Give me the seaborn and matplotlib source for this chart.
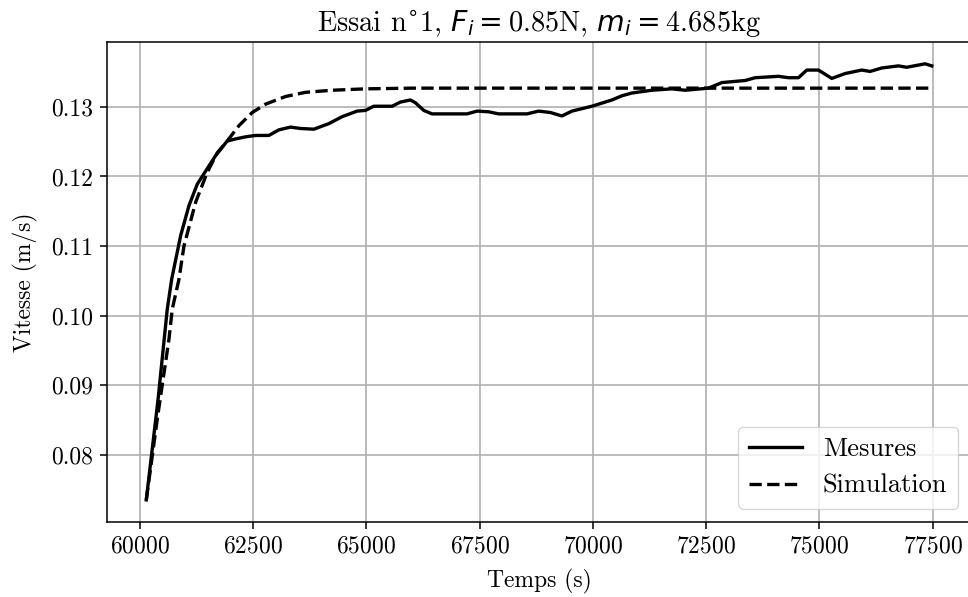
import pandas as pd
import seaborn as sns
import matplotlib.pyplot as plt

# Essai n°1 : vitesse mesuree vs simulee
temps_mes = [60139, 60400, 60602, 60699, 60898, 61081, 61265, 61670, 61926,
             62111, 62332, 62552, 62846, 63066, 63324, 63545, 63839, 64170,
             64463, 64794, 64978, 65162, 65566, 65750, 65971, 66081, 66265,
             66448, 67220, 67441, 67699, 67920, 68544, 68802, 69060, 69316,
             69537, 69978, 70419, 70640, 70861, 71302, 71743, 72037, 72552,
             72846, 73361, 73582, 74096, 74317, 74538, 74721, 74979, 75273,
             75568, 75935, 76119, 76376, 76744, 76927, 77333, 77480]
vit_mes = [0.0735, 0.0880, 0.1009, 0.1052, 0.1115, 0.1158, 0.1189, 0.1230,
           0.1251, 0.1254, 0.1257, 0.1259, 0.1259, 0.1267, 0.1271, 0.1269,
           0.1268, 0.1276, 0.1286, 0.1294, 0.1295, 0.1301, 0.1301, 0.1307,
           0.1310, 0.1306, 0.1295, 0.1290, 0.1290, 0.1294, 0.1293, 0.1290,
           0.1290, 0.1294, 0.1292, 0.1287, 0.1294, 0.1301, 0.1310, 0.1316,
           0.1320, 0.1324, 0.1326, 0.1324, 0.1327, 0.1335, 0.1338, 0.1342,
           0.1344, 0.1342, 0.1342, 0.1353, 0.1353, 0.1341, 0.1348, 0.1353,
           0.1351, 0.1356, 0.1359, 0.1357, 0.1362, 0.1359]

temps_sim = [60139, 60390, 60640, 60712, 60860, 60971, 61229, 61485, 61706,
             61926, 62184, 62479, 62773, 63214, 63655, 64243, 64978, 66000,
             68000, 70000, 72500, 75000, 77480]
vit_sim = [0.0735, 0.0855, 0.0966, 0.1009, 0.1052, 0.1100, 0.1163, 0.1206,
           0.1234, 0.1251, 0.1273, 0.1292, 0.1304, 0.1315, 0.1321, 0.1324,
           0.1326, 0.1327, 0.1327, 0.1327, 0.1327, 0.1327, 0.1327]

df_mes = pd.DataFrame({'Temps': temps_mes, 'Vitesse': vit_mes})
df_sim = pd.DataFrame({'Temps': temps_sim, 'Vitesse': vit_sim})

plt.rcParams['font.family'] = ['cmr10', 'DejaVu Serif']
plt.rcParams['axes.formatter.use_mathtext'] = True
plt.rcParams['font.size'] = 17
plt.rcParams['axes.linewidth'] = 1.1
for a in ['xtick', 'ytick']:
    plt.rcParams[a + '.major.size'] = 5
    plt.rcParams[a + '.major.pad'] = 5
    plt.rcParams[a + '.major.width'] = 1.1

fig = plt.figure(figsize=(9.68, 5.97), dpi=100)
ax = fig.add_axes([107 / 968, 1 - 521.7 / 597, 864 / 968, (521.7 - 42) / 597])

sns.lineplot(data=df_mes, x='Temps', y='Vitesse', color='black', lw=2.4,
             label='Mesures', ax=ax)
sns.lineplot(data=df_sim, x='Temps', y='Vitesse', color='black', lw=2.4,
             linestyle='--', label='Simulation', ax=ax)

ax.grid(True, color='#b0b0b0', lw=1.2)
ax.ticklabel_format(axis='x', useOffset=False, style='plain')
ax.set_xticks([60000, 62500, 65000, 67500, 70000, 72500, 75000, 77500])
ax.set_yticks([0.08, 0.09, 0.10, 0.11, 0.12, 0.13])
ax.set_yticklabels(['0.08', '0.09', '0.10', '0.11', '0.12', '0.13'])
ax.set_xlabel('Temps (s)', labelpad=8)
ax.set_ylabel('Vitesse (m/s)', labelpad=9)
ax.set_title('Essai n$^{\\circ}$1, $F_i = $0.85N, $m_i = $4.685kg', pad=8)
ax.legend(loc='lower right', fontsize=19)

fig.savefig('out.png', dpi=100)
